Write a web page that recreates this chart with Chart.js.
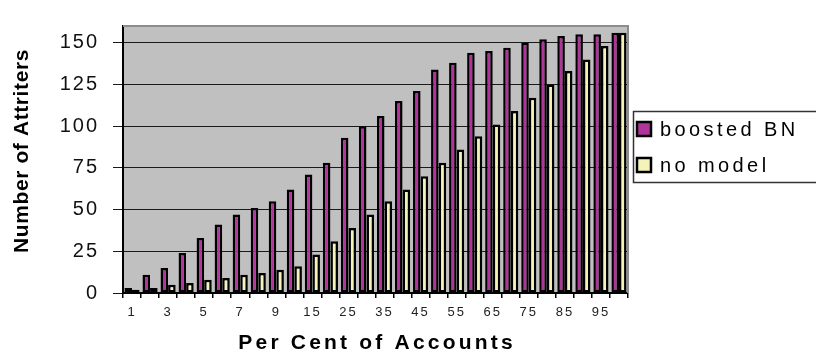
<!DOCTYPE html>
<html>
<head>
<meta charset="utf-8">
<script src="https://cdn.jsdelivr.net/npm/chart.js@4.4.1/dist/chart.umd.min.js"></script>
<style>
  html, body { margin: 0; padding: 0; background: #fff; }
  #wrap { width: 816px; height: 354px; }
</style>
</head>
<body>
<div id="wrap"><canvas id="attritersChart" width="816" height="354"></canvas></div>
<script>
// =========================
// DATA
// =========================

const percentAccounts = [
  "1", "2", "3", "4", "5", "6", "7", "8", "9", "10",
  "15", "20", "25", "30", "35", "40", "45", "50", "55", "60",
  "65", "70", "75", "80", "85", "90", "95", "100"
];

const boostedBN = [
  3, 11, 15, 24, 33, 41, 47, 51, 55, 62,
  71, 78, 93, 100, 106, 115, 121, 134, 138, 144,
  145, 147, 150, 152, 154, 155, 155, 156
];

const noModel = [
  2, 3, 5, 6, 8, 9, 11, 12, 14, 16,
  23, 31, 39, 47, 55, 62, 70, 78, 86, 94,
  101, 109, 117, 125, 133, 140, 148, 156
];

const yTicks = [0, 25, 50, 75, 100, 125, 150];
const yMax = 160;

const seriesNames = ["boosted BN", "no model"];
const seriesColors = ["#b0349a", "#f4f4b8"];

const xTitle = "Per Cent of Accounts";
const yTitle = "Number of Attriters";

const FONT = "Arial, 'Liberation Sans', sans-serif";

// =========================
// PLUGIN: background, titles, legend
// =========================

const excelLook = {
  id: "excelLook",
  beforeDraw(chart) {
    const { ctx, chartArea: a } = chart;
    ctx.save();
    ctx.fillStyle = "#c0c0c0";
    ctx.fillRect(a.left, a.top, a.right - a.left, a.bottom - a.top);
    ctx.restore();
    // tick labels are a bit spaced out in the original
    ctx.letterSpacing = "2px";
  },
  afterDraw(chart) {
    const { ctx, chartArea: a } = chart;

    // grey frame top / right
    ctx.save();
    ctx.strokeStyle = "#8c8c8c";
    ctx.lineWidth = 2;
    ctx.beginPath();
    ctx.moveTo(a.left, a.top);
    ctx.lineTo(a.right, a.top);
    ctx.lineTo(a.right, a.bottom);
    ctx.stroke();
    ctx.restore();

    // x title
    ctx.save();
    ctx.letterSpacing = "3.2px";
    ctx.font = "bold 21px " + FONT;
    ctx.fillStyle = "#000";
    ctx.textAlign = "center";
    ctx.textBaseline = "middle";
    ctx.fillText(xTitle, (a.left + a.right) / 2 + 1.6, 343);
    ctx.restore();

    // y title
    ctx.save();
    ctx.letterSpacing = "0.6px";
    ctx.font = "bold 21px " + FONT;
    ctx.fillStyle = "#000";
    ctx.textAlign = "center";
    ctx.textBaseline = "middle";
    ctx.translate(22, 151);
    ctx.rotate(-Math.PI / 2);
    ctx.fillText(yTitle, 0, 0);
    ctx.restore();

    // legend
    ctx.save();
    ctx.letterSpacing = "3.4px";
    ctx.strokeStyle = "#333";
    ctx.lineWidth = 1.5;
    ctx.strokeRect(633.5, 111.5, 200, 71);
    ctx.font = "20px " + FONT;
    ctx.textBaseline = "alphabetic";
    ctx.textAlign = "left";
    chart.data.datasets.forEach((ds, i) => {
      const sy = 122 + i * 36;
      ctx.fillStyle = ds.backgroundColor;
      ctx.fillRect(637, sy, 14, 14);
      ctx.strokeStyle = "#000";
      ctx.lineWidth = 2.5;
      ctx.strokeRect(637, sy, 14, 14);
      ctx.fillStyle = "#000";
      ctx.fillText(ds.label, 660, sy + 14);
    });
    ctx.restore();
  }
};

// =========================
// CHART
// =========================

const ctx = document.getElementById("attritersChart");

const attritersChart = new Chart(ctx, {
  type: "bar",
  data: {
    labels: percentAccounts,
    datasets: [
      {
        label: seriesNames[0],
        data: boostedBN,
        backgroundColor: seriesColors[0],
        borderColor: "#000",
        borderWidth: 2.5,
        borderSkipped: false
      },
      {
        label: seriesNames[1],
        data: noModel,
        backgroundColor: seriesColors[1],
        borderColor: "#000",
        borderWidth: 2.5,
        borderSkipped: false
      }
    ]
  },
  options: {
    responsive: false,
    animation: false,
    devicePixelRatio: 1,
    categoryPercentage: 0.84,
    barPercentage: 1.0,
    layout: {
      padding: { top: 13, right: 188, bottom: 0, left: 0 }
    },
    plugins: {
      legend: { display: false },
      tooltip: { enabled: false },
      title: { display: false }
    },
    scales: {
      x: {
        afterFit(axis) { axis.height = 61; },
        grid: {
          display: true,
          drawOnChartArea: false,
          drawTicks: true,
          tickLength: 5,
          color: "#000",
          lineWidth: 1.5,
          offset: true
        },
        border: { display: true, color: "#000", width: 2, z: 1 },
        ticks: {
          autoSkip: false,
          maxRotation: 0,
          minRotation: 0,
          padding: 7,
          color: "#222",
          font: { family: FONT, size: 13 },
          callback(value, index) {
            return index % 2 === 0 ? percentAccounts[index] : "";
          }
        }
      },
      y: {
        min: 0,
        max: yMax,
        afterFit(axis) { axis.width = 123; },
        afterBuildTicks(axis) {
          axis.ticks = yTicks.map(v => ({ value: v }));
        },
        grid: {
          color: "#1a1a1a",
          lineWidth: 1,
          drawTicks: true,
          tickLength: 10
        },
        border: { display: true, color: "#000", width: 2, z: 1 },
        ticks: {
          padding: 14,
          color: "#111",
          font: { family: FONT, size: 20 }
        }
      }
    }
  },
  plugins: [excelLook]
});
</script>
</body>
</html>
